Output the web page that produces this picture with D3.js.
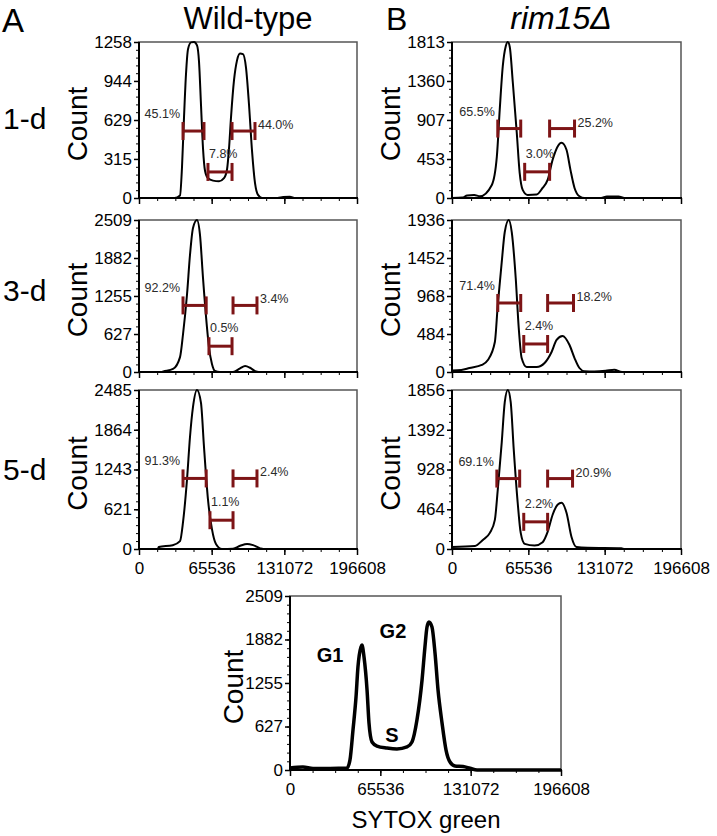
<!DOCTYPE html>
<html>
<head>
<meta charset="utf-8">
<script src="https://d3js.org/d3.v7.min.js"></script>
<style>
  body { margin: 0; background: #fff; }
  svg { display: block; font-family: "Liberation Sans", Arial, sans-serif; }
  .tick text { font-size: 17px; fill: #000; }
  .pct { font-size: 12.5px; fill: #2a2a2a; }
</style>
</head>
<body>
<svg id="chart" width="717" height="836"></svg>
<script>
// x axis of every histogram (SYTOX green intensity)
const xTicks = [0, 65536, 131072, 196608];

// histograms: [intensity, count]
const wt1d = [[0,0],[32000,0],[36980,20],[38790,250],[40590,650],[42390,1000],[44200,1200],[46900,1255],
  [49610,1258],[52320,1230],[54120,1100],[55920,750],[57730,400],[59530,220],[62240,160],[66750,140],
  [72160,135],[76670,160],[79380,230],[81180,400],[82980,650],[85690,950],[88400,1110],[91100,1165],
  [93810,1160],[96520,1050],[99230,750],[101930,380],[104630,120],[107340,25],[110950,0],[125000,0],
  [130000,8],[136000,10],[141000,0],[196608,0]];
const wt3d = [[0,0],[20000,0],[22000,10],[30700,50],[37000,246],[39700,623],[43300,1279],[46000,1935],
  [48700,2378],[52300,2509],[55000,2263],[57700,1558],[61300,738],[63100,410],[65800,131],[68500,16],
  [73000,0],[84800,0],[91200,60],[95700,100],[100200,70],[104700,15],[108000,0],[196608,0]];
const wt5d = [[0,0],[17000,0],[17800,30],[30400,60],[37000,124],[39700,420],[43300,1087],[46000,1755],
  [48700,2220],[52300,2485],[55900,2283],[58600,1600],[62200,776],[65800,310],[69400,78],[74800,0],
  [84800,5],[91200,50],[97500,80],[102900,60],[109300,10],[112000,0],[196608,0]];
const rim1d = [[0,0],[9000,5],[13000,30],[19000,35],[24000,20],[34200,152],[38500,480],[41000,1030],
  [43600,1532],[46200,1766],[47900,1813],[49600,1755],[52200,1345],[55600,760],[58100,292],[60700,94],
  [65000,35],[72700,40],[77800,117],[82100,210],[86400,444],[90600,597],[94100,643],[98300,561],
  [101700,327],[105200,117],[109400,20],[113700,0],[128000,0],[133000,18],[143000,18],[148000,0],[196608,0]];
const rim3d = [[0,20],[8000,25],[15000,50],[25600,90],[30800,153],[36800,382],[39300,853],[42700,1400],
  [45300,1783],[48700,1936],[51300,1783],[54700,1197],[57300,560],[59800,178],[64100,64],[72700,64],
  [79500,115],[85500,255],[89800,408],[94900,459],[100900,344],[105200,178],[109400,51],[113700,10],
  [122200,5],[132000,15],[139300,30],[146000,0],[196608,0]];
const rim5d = [[0,23],[19700,35],[26500,106],[32500,188],[36800,340],[39300,693],[42700,1245],[45300,1715],
  [47900,1856],[50400,1715],[53000,1163],[56400,540],[59000,188],[62400,60],[70900,40],[77800,80],
  [82100,200],[86400,400],[90600,517],[94100,540],[98300,423],[102600,141],[106900,23],[116300,15],
  [145400,10],[148000,0],[196608,0]];
const asyncWt = [[0,30],[9400,45],[16700,20],[41400,30],[43500,144],[45700,577],[47900,1053],[49300,1485],
  [51500,1774],[52200,1802],[53700,1629],[55900,1153],[57300,678],[59500,404],[63100,346],[70400,317],
  [77600,303],[84900,332],[88500,404],[92100,721],[95800,1298],[97900,1774],[99400,2062],[100800,2134],
  [103000,2062],[105200,1687],[107400,1153],[110300,678],[113200,288],[116100,115],[119700,58],
  [125500,50],[130600,25],[135700,0],[196608,0]];

// y tick labels
const wt1dTicks = [0, 315, 629, 944, 1258];
const wt3dTicks = [0, 627, 1255, 1882, 2509];
const wt5dTicks = [0, 621, 1243, 1864, 2485];
const rim1dTicks = [0, 453, 907, 1360, 1813];
const rim3dTicks = [0, 484, 968, 1452, 1936];
const rim5dTicks = [0, 464, 928, 1392, 1856];
const asyncTicks = [0, 627, 1255, 1882, 2509];

// gates G1, S, G2: [from, to, count level]
const wt1dGates = [[39700, 58600, 540], [62200, 83900, 210], [83900, 104600, 540]];
const wt3dGates = [[39700, 60600, 1099], [63100, 83900, 426], [84800, 106400, 1099]];
const wt5dGates = [[39700, 60600, 1103], [64000, 84800, 450], [84800, 106400, 1103]];
const rim1dGates = [[39300, 59000, 807], [62400, 83800, 304], [83800, 105200, 807]];
const rim3dGates = [[39300, 59000, 879], [61600, 82100, 357], [82100, 104300, 879]];
const rim5dGates = [[38500, 58100, 822], [61600, 82100, 317], [82100, 103500, 822]];

const wt1dPct = ["45.1%", "7.8%", "44.0%"];
const wt3dPct = ["92.2%", "0.5%", "3.4%"];
const wt5dPct = ["91.3%", "1.1%", "2.4%"];
const rim1dPct = ["65.5%", "3.0%", "25.2%"];
const rim3dPct = ["71.4%", "2.4%", "18.2%"];
const rim5dPct = ["69.1%", "2.2%", "20.9%"];

// phase labels in the asynchronous culture: [text, intensity, count]
const phaseLabels = [["G1", 29000, 1557], ["G2", 74700, 1903], ["S", 74000, 404]];

const rowLabels = ["1-d", "3-d", "5-d"];

const svg = d3.select("#chart");
const gateColor = "#7d1416";

const colA = [139, 357], colB = [452, 681];
const rows = [[42, 198], [220, 372], [390, 549]];

const panels = [
  {col: colA, row: rows[0], data: wt1d, ticks: wt1dTicks, gates: wt1dGates, pct: wt1dPct},
  {col: colA, row: rows[1], data: wt3d, ticks: wt3dTicks, gates: wt3dGates, pct: wt3dPct},
  {col: colA, row: rows[2], data: wt5d, ticks: wt5dTicks, gates: wt5dGates, pct: wt5dPct, xLabels: true},
  {col: colB, row: rows[0], data: rim1d, ticks: rim1dTicks, gates: rim1dGates, pct: rim1dPct},
  {col: colB, row: rows[1], data: rim3d, ticks: rim3dTicks, gates: rim3dGates, pct: rim3dPct},
  {col: colB, row: rows[2], data: rim5d, ticks: rim5dTicks, gates: rim5dGates, pct: rim5dPct, xLabels: true},
  {col: [290, 561], row: [596, 770], data: asyncWt, ticks: asyncTicks, xLabels: true, thick: true}
];

function drawPanel(p) {
  const [x0, x1] = p.col, [y0, y1] = p.row;
  const ymax = p.ticks[p.ticks.length - 1];
  const x = d3.scaleLinear().domain([0, 196608]).range([x0, x1]);
  const y = d3.scaleLinear().domain([0, ymax]).range([y1, y0]);
  const g = svg.append("g");

  // frame
  g.append("rect").attr("x", x0).attr("y", y0).attr("width", x1 - x0).attr("height", y1 - y0)
    .attr("fill", "none").attr("stroke", "#555").attr("stroke-width", 1.5);

  // minor ticks
  const minorY = d3.range(0, ymax, ymax / 20);
  g.append("g").attr("transform", `translate(${x0},0)`)
    .call(d3.axisLeft(y).tickValues(minorY).tickSize(3).tickFormat(""))
    .call(s => s.select(".domain").remove());
  g.append("g").attr("transform", `translate(0,${y1})`)
    .call(d3.axisBottom(x).tickValues(d3.range(0, 196609, 16384)).tickSize(3).tickFormat(""))
    .call(s => s.select(".domain").remove());

  // major ticks
  g.append("g").attr("transform", `translate(${x0},0)`)
    .call(d3.axisLeft(y).tickValues(p.ticks).tickSize(5).tickPadding(2).tickFormat(d3.format("d")))
    .call(s => s.select(".domain").remove())
    .selectAll("line").attr("stroke-width", 1.5);
  g.append("g").attr("transform", `translate(0,${y1})`)
    .call(d3.axisBottom(x).tickValues(xTicks).tickSize(6).tickPadding(7)
      .tickFormat(p.xLabels ? d3.format("d") : ""))
    .call(s => s.select(".domain").remove())
    .selectAll("line").attr("stroke-width", 1.5);

  // axis lines
  g.append("line").attr("x1", x0).attr("x2", x0).attr("y1", y0).attr("y2", y1 + 1)
    .attr("stroke", "#000").attr("stroke-width", 2);
  g.append("line").attr("x1", x0 - 1).attr("x2", x1 + 1).attr("y1", y1).attr("y2", y1)
    .attr("stroke", "#000").attr("stroke-width", 2);

  // histogram
  const line = d3.line().x(d => x(d[0])).y(d => y(d[1])).curve(d3.curveMonotoneX);
  g.append("path").datum(p.data).attr("d", line)
    .attr("fill", "none").attr("stroke", "#000")
    .attr("stroke-width", p.thick ? 3.5 : 2).attr("stroke-linejoin", "round");

  // gates
  if (p.gates) {
    p.gates.forEach((gt, i) => {
      const gx0 = x(gt[0]), gx1 = x(gt[1]), gy = y(gt[2]);
      g.append("line").attr("x1", gx0).attr("x2", gx1).attr("y1", gy).attr("y2", gy)
        .attr("stroke", gateColor).attr("stroke-width", 3);
      [gx0, gx1].forEach(cx => g.append("line").attr("x1", cx).attr("x2", cx)
        .attr("y1", gy - 9).attr("y2", gy + 9).attr("stroke", gateColor).attr("stroke-width", 3));
      const t = g.append("text").attr("class", "pct").text(p.pct[i]);
      if (i === 0) t.attr("x", gx0 - 3).attr("y", gy - 13).attr("text-anchor", "end");
      else if (i === 1) t.attr("x", gx0 + 1).attr("y", gy - 14);
      else t.attr("x", gx1 + 3).attr("y", gy - 2);
    });
  }

  // y title
  const cy = (y0 + y1) / 2 + 4;
  const cxTitle = x0 - 52 + (p.thick ? 5 : 0);
  g.append("text").attr("transform", `translate(${cxTitle},${cy}) rotate(-90)`)
    .attr("text-anchor", "middle").attr("font-size", 28).text("Count");

  return {x, y, g};
}

const drawn = panels.map(drawPanel);

// phase labels on the bottom panel
const bottom = drawn[6];
phaseLabels.forEach(([t, xv, yv]) => {
  bottom.g.append("text").attr("x", bottom.x(xv)).attr("y", bottom.y(yv))
    .attr("text-anchor", "middle").attr("font-size", 20).attr("font-weight", "bold").text(t);
});
svg.append("text").attr("x", 426).attr("y", 828).attr("text-anchor", "middle")
  .attr("font-size", 24).text("SYTOX green");

// headings
svg.append("text").attr("x", 2).attr("y", 32).attr("font-size", 33).text("A");
svg.append("text").attr("x", 386).attr("y", 30).attr("font-size", 32).text("B");
svg.append("text").attr("x", 248).attr("y", 29).attr("text-anchor", "middle")
  .attr("font-size", 31).text("Wild-type");
svg.append("text").attr("x", 561).attr("y", 29).attr("text-anchor", "middle")
  .attr("font-size", 32).attr("font-style", "italic").text("rim15Δ");

const rowBase = [129, 301, 480];
rowLabels.forEach((t, i) => {
  svg.append("text").attr("x", 3).attr("y", rowBase[i]).attr("font-size", 30).text(t);
});
</script>
</body>
</html>
